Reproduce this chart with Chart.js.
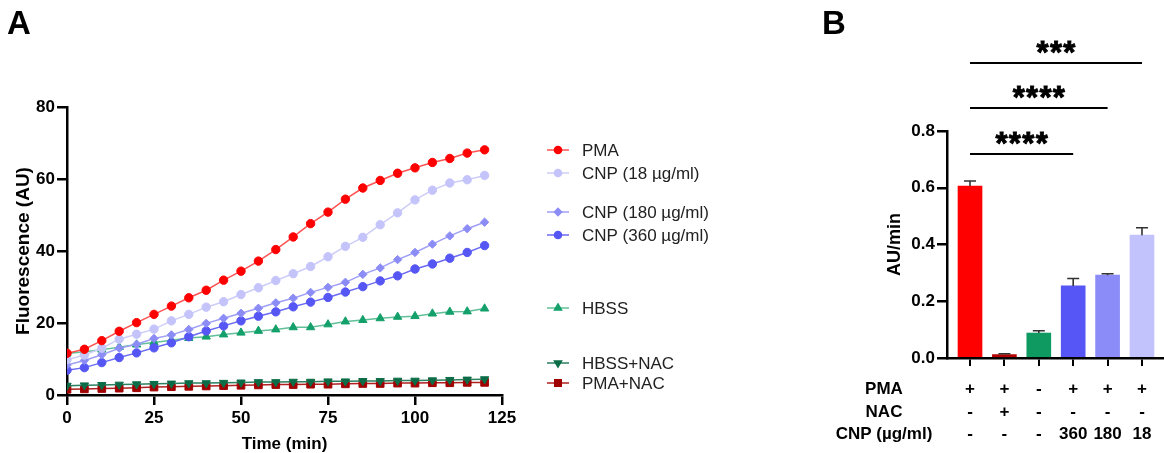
<!DOCTYPE html>
<html><head><meta charset="utf-8">
<script src="https://cdn.jsdelivr.net/npm/chart.js@4.4.1/dist/chart.umd.min.js"></script>
<style>
html,body{margin:0;padding:0;background:#fff;width:1164px;height:453px;overflow:hidden;font-family:"Liberation Sans",Arial,sans-serif;}
#wa{position:absolute;left:0;top:0;width:820px;height:453px;}
#wb{position:absolute;left:820px;top:0;width:344px;height:453px;}
.lt{position:absolute;font-weight:bold;font-size:33px;line-height:1;color:#000;}
</style></head><body>
<div id="wa"><canvas id="ca" width="820" height="453"></canvas></div>
<div id="wb"><canvas id="cb" width="344" height="453"></canvas></div>
<div class="lt" style="left:7px;top:6px">A</div>
<div class="lt" style="left:822px;top:6px">B</div>
<script>
// ---------- Panel A data ----------
const time = [0,5,10,15,20,25,30,35,40,45,50,55,60,65,70,75,80,85,90,95,100,105,110,115,120];
const labelsA = ['PMA','CNP (18 µg/ml)','CNP (180 µg/ml)','CNP (360 µg/ml)','HBSS','HBSS+NAC','PMA+NAC'];
const pma     = [11.6,12.7,15.1,17.7,20.1,22.4,24.7,27.0,29.1,31.9,34.4,37.2,40.4,43.9,47.6,50.8,54.4,57.5,59.6,61.6,63.1,64.6,65.7,67.2,68.1];
const cnp18   = [9.8,11.1,13.0,15.5,16.9,18.3,20.6,22.4,24.4,25.9,27.9,29.8,31.8,33.7,35.7,38.4,41.3,43.8,47.3,50.6,54.2,56.9,58.9,59.8,61.0];
const cnp180  = [8.3,9.6,11.2,13.0,14.1,15.7,16.7,18.2,19.9,21.3,22.7,24.1,25.6,26.9,28.5,29.9,31.3,33.5,35.3,37.6,39.6,41.9,44.2,46.2,48.0];
const cnp360  = [6.9,7.6,9.0,10.4,11.7,13.1,14.5,16.2,17.8,19.2,20.6,21.9,23.1,24.5,25.8,27.1,28.6,30.1,31.7,33.1,35.0,36.4,38.0,39.6,41.5];
const hbss    = [11.5,12.0,12.6,13.3,14.0,14.6,15.2,15.8,16.2,16.8,17.3,17.8,18.2,18.8,18.8,19.6,20.4,20.8,21.3,21.7,21.9,22.6,23.1,23.2,24.0];
const hbssNac = [2.6,2.7,2.8,2.9,3.0,3.1,3.2,3.3,3.3,3.4,3.5,3.6,3.6,3.7,3.7,3.8,3.8,3.9,3.9,4.0,4.0,4.1,4.2,4.3,4.4];
const pmaNac  = [1.6,1.7,1.8,1.9,2.0,2.2,2.3,2.4,2.5,2.6,2.7,2.8,2.9,2.9,3.0,3.0,3.1,3.2,3.2,3.3,3.3,3.4,3.4,3.5,3.5];
const xTicksA = [0,25,50,75,100,125];
const yTicksA = [0,20,40,60,80];

// ---------- Panel B data ----------
const groupsB = ['PMA','PMA+NAC','HBSS','CNP 360','CNP 180','CNP 18'];
const rateB   = [0.606,0.012,0.088,0.254,0.292,0.433];
const semB    = [0.018,0.003,0.008,0.026,0.005,0.026];
const yTicksB = [0,0.2,0.4,0.6,0.8];
const rowLabels = ['PMA','NAC','CNP (µg/ml)'];
const rowPMA = ['+','+','-','+','+','+'];
const rowNAC = ['-','+','-','-','-','-'];
const rowCNP = ['-','-','-','360','180','18'];
const sigText = ['***','****','****'];
const sigTo   = [6,5,4];
const sigLevel= [1.04,0.881,0.719];

const FONT = '"Liberation Sans", Arial, sans-serif';
Chart.defaults.font.family = FONT;
Chart.defaults.color = '#000';

// styles
const stylesA = [
  {pt:'#ff0000', ln:'rgba(255,40,40,0.8)', ps:'circle', rot:0, r:4.2},
  {pt:'#c4c4fb', ln:'#cdcdf9', ps:'circle', rot:0, r:4.2},
  {pt:'#8c8cf6', ln:'#9e9ef6', ps:'rectRot', rot:0, r:4.2},
  {pt:'#5656f4', ln:'#6a6af4', ps:'circle', rot:0, r:4.2},
  {pt:'#13a06a', ln:'rgba(30,165,110,0.7)', ps:'triangle', rot:0, r:4.8},
  {pt:'#0b6d48', ln:'#2a8060', ps:'triangle', rot:180, r:4.8},
  {pt:'#a00000', ln:'#b02020', ps:'rect', rot:0, r:5.4},
];
const valuesA = [pma,cnp18,cnp180,cnp360,hbss,hbssNac,pmaNac];
const legendY = [150,173,212,235,308,363,383];

const legendA = {
  id:'legendA',
  afterDraw(chart){
    const ctx = chart.ctx;
    ctx.save();
    chart.data.datasets.forEach((ds,i)=>{
      const y = legendY[i];
      ctx.strokeStyle = ds.borderColor; ctx.lineWidth = 1.5;
      ctx.beginPath(); ctx.moveTo(547,y); ctx.lineTo(569,y); ctx.stroke();
      ctx.fillStyle = ds.pointBackgroundColor; ctx.strokeStyle = ds.pointBackgroundColor;
      Chart.helpers.drawPoint(ctx,{pointStyle:ds.pointStyle, radius:ds.pointRadius*0.85, rotation:ds.pointRotation, borderWidth:1}, 558, y);
      ctx.fillStyle = '#222'; ctx.font = '17px '+FONT; ctx.textBaseline='middle'; ctx.textAlign='left';
      ctx.fillText(ds.label, 582, y+1);
    });
    ctx.restore();
  }
};

new Chart(document.getElementById('ca'), {
  type:'line',
  data:{datasets: valuesA.map((vals,i)=>({
    label: labelsA[i],
    data: time.map((t,j)=>({x:t,y:vals[j]})),
    borderColor: stylesA[i].ln, borderWidth:1.5,
    pointBackgroundColor: stylesA[i].pt, pointBorderColor: stylesA[i].pt,
    pointStyle: stylesA[i].ps, pointRotation: stylesA[i].rot,
    pointRadius: stylesA[i].r, pointBorderWidth:1, tension:0
  }))},
  options:{
    responsive:false, animation:false, events:[],
    layout:{padding:{left:0,top:107,right:318,bottom:0}},
    plugins:{legend:{display:false}, tooltip:{enabled:false}},
    scales:{
      x:{type:'linear', min:0, max:125,
        afterBuildTicks(s){ s.ticks = xTicksA.map(v=>({value:v})); },
        ticks:{font:{size:17,weight:'bold'}, color:'#000', padding:3, maxRotation:0},
        grid:{drawOnChartArea:false, drawTicks:true, tickLength:10, color:'#000', lineWidth:2.5},
        border:{color:'#000', width:2.5},
        title:{display:true, text:'Time (min)', font:{size:17,weight:'bold',lineHeight:1}, color:'#000', padding:{top:0,bottom:0}},
        afterFit(s){ s.height = 58; s.paddingLeft=0; s.paddingRight=0; }
      },
      y:{min:0, max:80,
        afterBuildTicks(s){ s.ticks = yTicksA.map(v=>({value:v})); },
        ticks:{font:{size:17,weight:'bold'}, color:'#000', padding:2},
        grid:{drawOnChartArea:false, drawTicks:true, tickLength:10, color:'#000', lineWidth:2.5},
        border:{color:'#000', width:2.5},
        title:{display:true, text:'Fluorescence (AU)', font:{size:19,weight:'bold',lineHeight:1}, color:'#000', padding:{top:14,bottom:0}},
        afterFit(s){ s.width = 67; s.paddingTop=0; s.paddingBottom=0; }
      }
    }
  },
  plugins:[legendA]
});

// ---------- Panel B ----------
const colorsB = ['#ff0000','#b40000','#0f9a62','#5656f7','#8c8cf9','#c2c2fc'];
const barX = groupsB.map((g,i)=>i+1);

const extrasB = {
  id:'extrasB',
  afterDatasetsDraw(chart){
    const ctx = chart.ctx, xs = chart.scales.x, ys = chart.scales.y;
    ctx.save();
    ctx.strokeStyle = '#333'; ctx.lineWidth = 1.6;
    rateB.forEach((v,i)=>{
      const x = xs.getPixelForValue(barX[i]);
      const y0 = ys.getPixelForValue(v), y1 = ys.getPixelForValue(v+semB[i]);
      ctx.beginPath(); ctx.moveTo(x,y0); ctx.lineTo(x,y1);
      ctx.moveTo(x-6,y1); ctx.lineTo(x+6,y1); ctx.stroke();
    });
    ctx.restore();
  },
  afterDraw(chart){
    const ctx = chart.ctx, xs = chart.scales.x, ys = chart.scales.y;
    ctx.save();
    ctx.strokeStyle='#000'; ctx.lineWidth=2; ctx.fillStyle='#000';
    sigText.forEach((t,i)=>{
      const xa = xs.getPixelForValue(barX[0]), xb = xs.getPixelForValue(sigTo[i]);
      const y = Math.round(ys.getPixelForValue(sigLevel[i]));
      ctx.lineWidth=2;
      ctx.beginPath(); ctx.moveTo(xa,y); ctx.lineTo(xb,y); ctx.stroke();
      ctx.font='bold 31px '+FONT; ctx.textAlign='center'; ctx.textBaseline='middle';
      ctx.lineWidth=0.9;
      const cx = (xa+xb)/2, n = t.length, sp = 13.4;
      for(let k=0;k<n;k++){
        const px = cx + (k-(n-1)/2)*sp;
        ctx.fillText('*', px, y-9);
        ctx.strokeText('*', px, y-9);
      }
    });
    ctx.font='bold 17px '+FONT; ctx.textBaseline='middle'; ctx.textAlign='center';
    const rowsY=[389,412,434];
    const rows=[rowPMA,rowNAC,rowCNP];
    rows.forEach((r,ri)=>{
      ctx.fillText(rowLabels[ri], 64, rowsY[ri]);
      r.forEach((s,i)=>{ ctx.fillText(s, xs.getPixelForValue(barX[i]), rowsY[ri]); });
    });
    ctx.restore();
  }
};

new Chart(document.getElementById('cb'), {
  type:'bar',
  data:{datasets:[{
    data: barX.map((x,i)=>({x:x, y:rateB[i]})),
    backgroundColor: colorsB, borderWidth:0, barThickness:24
  }]},
  options:{
    responsive:false, animation:false, events:[],
    layout:{padding:{left:0,top:131,right:0,bottom:0}},
    plugins:{legend:{display:false}, tooltip:{enabled:false}},
    scales:{
      x:{type:'linear', min:0.331, max:6.64, offset:false,
        afterBuildTicks(s){ s.ticks = barX.map(v=>({value:v})); },
        ticks:{display:false},
        grid:{drawOnChartArea:false, drawTicks:true, tickLength:8, color:'#000', lineWidth:2, offset:false},
        border:{color:'#000', width:2.5},
        afterFit(s){ s.height = 95; s.paddingLeft=0; s.paddingRight=0; }
      },
      y:{min:0, max:0.8,
        afterBuildTicks(s){ s.ticks = yTicksB.map(v=>({value:v})); },
        ticks:{font:{size:17,weight:'bold'}, color:'#000', padding:2, callback:v=>Number(v).toFixed(1)},
        grid:{drawOnChartArea:false, drawTicks:true, tickLength:10, color:'#000', lineWidth:2.5},
        border:{color:'#000', width:2.5},
        title:{display:true, text:'AU/min', font:{size:18,weight:'bold',lineHeight:1}, color:'#000', padding:{top:66,bottom:0}},
        afterFit(s){ s.width = 127; s.paddingTop=0; s.paddingBottom=0; }
      }
    }
  },
  plugins:[extrasB]
});
</script>
</body></html>
